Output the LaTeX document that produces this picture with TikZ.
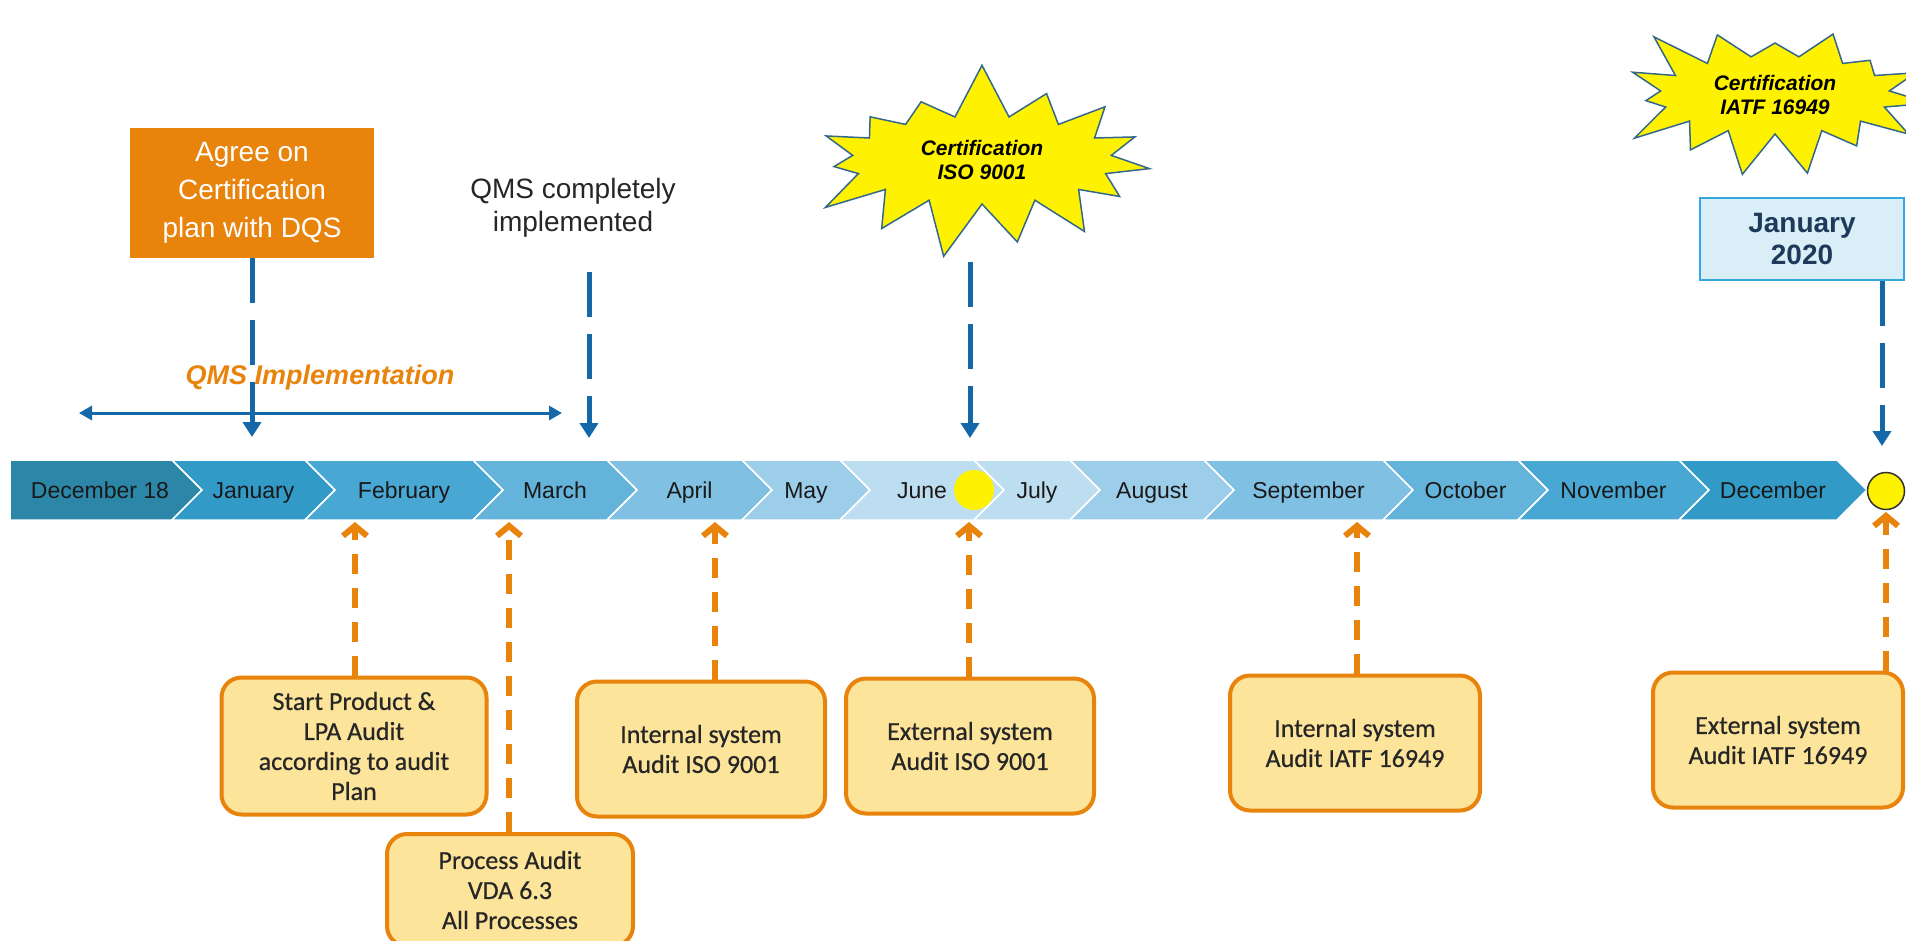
\documentclass[tikz,border=0pt]{standalone}
\usepackage{fontspec}
\setmainfont{Liberation Sans}
\newfontfamily\calibri[FakeBold=0.6]{Carlito}
\usetikzlibrary{arrows.meta,shapes.symbols,positioning}

\definecolor{planorange}{RGB}{232,131,12}
\definecolor{auditfill}{RGB}{252,228,155}
\definecolor{markblue}{RGB}{20,104,168}
\definecolor{starline}{RGB}{52,104,138}
\definecolor{datefill}{RGB}{218,238,248}
\definecolor{dateline}{RGB}{51,169,224}
\definecolor{datetext}{RGB}{30,58,90}
\definecolor{tla}{RGB}{44,134,168}
\definecolor{tlb}{RGB}{50,154,198}
\definecolor{tlc}{RGB}{73,167,212}
\definecolor{tld}{RGB}{99,179,218}
\definecolor{tle}{RGB}{128,192,226}
\definecolor{tlf}{RGB}{157,206,233}
\definecolor{tlg}{RGB}{189,222,240}

\begin{document}
\begin{tikzpicture}[x=1pt,y=-1pt]

%
% Styles
%
\tikzstyle{month} = [anchor=base,inner sep=0pt,text=black!90,font=\fontsize{23}{26}\selectfont]
\tikzstyle{audit} = [rectangle,rounded corners=20pt,draw=planorange,line width=4pt,fill=auditfill,
  minimum width=248pt,minimum height=135pt,align=center,text=black!85,font=\calibri\fontsize{26}{30}\selectfont]
\tikzstyle{burst} = [starburst,starburst points=15,draw=starline,line width=1.5pt,
  fill=yellow,align=center,font=\bfseries\itshape\fontsize{21}{24}\selectfont]
\tikzstyle{bluedash} = [markblue,line width=5pt,dash pattern=on 45pt off 17pt,-{Triangle[length=15pt,width=18pt]}]
\tikzstyle{orangedash} = [planorange,line width=6pt,dash pattern=on 20pt off 14pt,
  -{Straight Barb[length=10pt,width=24pt]}]

\useasboundingbox (0,0) rectangle (1906,940);

%
% Timeline
%
\filldraw[fill=tla,draw=white,line width=1.5pt] (10,460) -- (172,460) -- (202,490) -- (172,520) -- (10,520) -- cycle;
\node[month] (m0) at (100,498) {December 18};
\foreach \l/\r/\c/\t [count=\i] in {172/305/tlb/January,305/473/tlc/February,473/607/tld/March,
  607/742/tle/April,742/840/tlf/May,840/974/tlg/June,974/1070/tlg/July,1070/1204/tlf/August,
  1204/1383/tle/September,1383/1518/tld/October,1518/1679/tlc/November,1679/1837/tlb/December}
{
  \filldraw[fill=\c,draw=white,line width=1.5pt] (\l,460) -- (\r,460) -- ({\r+30},490) -- (\r,520)
    -- (\l,520) -- ({\l+30},490) -- cycle;
  \node[month] (m\i) at ({(\l+\r+30)/2},498) {\t};
}

\node[circle,fill=yellow,inner sep=0pt,minimum size=40pt] (iso dot) at (974,490) {};
\node[circle,fill=yellow,draw=black!80,line width=1.5pt,inner sep=0pt,minimum size=37pt] (iatf dot) at (1886,491) {};

%
% Milestones above
%
\node[fill=planorange,text=white,minimum width=244pt,minimum height=130pt,align=center,
  font=\fontsize{28}{38}\selectfont] (agree) at (252,193) {Agree on\\Certification\\plan with DQS};
\node[align=center,text=black!85,font=\fontsize{28}{33}\selectfont] (qms done) at (573,208)
  {QMS completely\\implemented};
\node[burst,random starburst=7,starburst point height=56pt,minimum width=372pt,minimum height=200pt]
  (iso star) at (982,160) {Certification\\ISO 9001};
\node[burst,random starburst=23,starburst point height=50pt,minimum width=330pt,minimum height=178pt]
  (iatf star) at (1775,95) {Certification\\IATF 16949};
\node[fill=datefill,draw=dateline,line width=2pt,minimum width=204pt,minimum height=82pt,align=center,
  text=datetext,font=\bfseries\fontsize{28}{32}\selectfont] (jan date) at (1802,239) {January\\2020};

\coordinate (a1) at (252,437);
\coordinate (a2) at (589,438);
\coordinate (a3) at (970,438);
\coordinate (a4) at (1882,446);
\coordinate (qms from) at (589,272);
\coordinate (iso from) at (970,262);

\draw[bluedash] (agree.south) -- (a1);
\draw[bluedash] (qms from) -- (a2);
\draw[bluedash] (iso from) -- (a3);
\draw[bluedash] (jan date.south -| a4) -- (a4);

\coordinate (span l) at (79,413);
\coordinate (span r) at (562,413);
\draw[markblue,line width=3pt,{Triangle[length=13pt,width=14pt]}-{Triangle[length=13pt,width=14pt]}] (span l) -- (span r);
\node[text=planorange,font=\bfseries\itshape\fontsize{27}{30}\selectfont] (qms impl) at (320,378) {QMS Implementation};

%
% Audits below
%
\node[audit,minimum width=265pt,minimum height=137pt] (start) at (354,746) {Start Product \&\\LPA Audit\\according to audit\\Plan};
\node[audit,minimum width=246pt,minimum height=112pt] (process) at (510,890) {Process Audit\\VDA 6.3\\All Processes};
\node[audit] (int iso) at (701,749) {Internal system\\Audit ISO 9001};
\node[audit] (ext iso) at (970,746) {External system\\Audit ISO 9001};
\node[audit,minimum width=250pt] (int iatf) at (1355,743) {Internal system\\Audit IATF 16949};
\node[audit,minimum width=250pt] (ext iatf) at (1778,740) {External system\\Audit IATF 16949};

\coordinate (t1) at (355,522);
\coordinate (t2) at (509,522);
\coordinate (t3) at (715,522);
\coordinate (t4) at (969,522);
\coordinate (t5) at (1357,522);
\coordinate (t6) at (1886,512);

\draw[orangedash] (start.north -| t1) -- (t1);
\draw[orangedash] (process.north -| t2) -- (t2);
\draw[orangedash] (int iso.north -| t3) -- (t3);
\draw[orangedash] (ext iso.north -| t4) -- (t4);
\draw[orangedash] (int iatf.north -| t5) -- (t5);
\draw[orangedash] (ext iatf.north -| t6) -- (t6);

\end{tikzpicture}
\end{document}
